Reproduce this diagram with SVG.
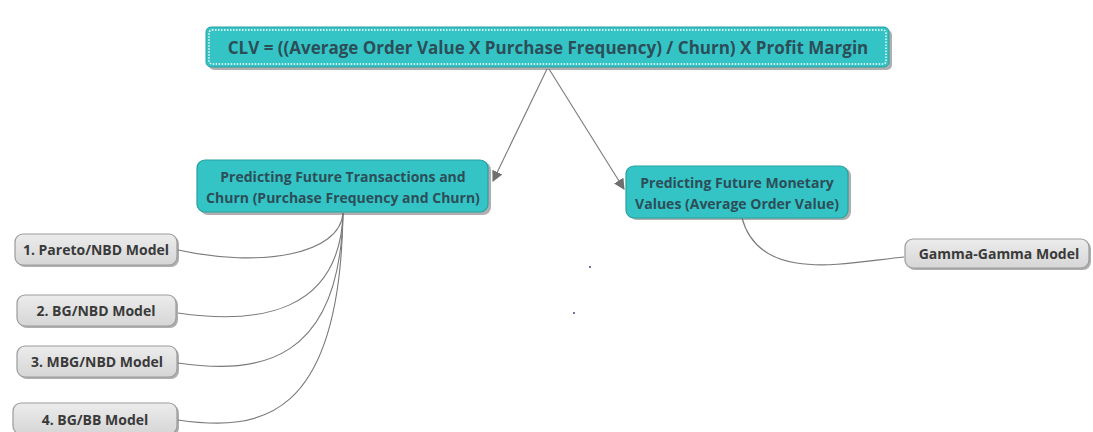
<svg xmlns="http://www.w3.org/2000/svg" width="1093" height="432" viewBox="0 0 1093 432">
  <defs>
    <style>
      .teal { fill: #35c4c6; stroke: #2a9fa1; stroke-width: 1.2; }
      .grey { fill: url(#greyFill); stroke: #9b9b9b; stroke-width: 1.2; }
      .shadow { fill: #6d6d6d; opacity: 0.55; }
      .t-main { font-family: "Open Sans", "Liberation Sans", sans-serif; font-weight: bold; font-size: 17px; fill: #2c4e58; text-anchor: middle; }
      .t-mid { font-family: "Open Sans", "Liberation Sans", sans-serif; font-weight: bold; font-size: 14px; fill: #2c4e58; text-anchor: middle; }
      .t-leaf { font-family: "Open Sans", "Liberation Sans", sans-serif; font-weight: bold; font-size: 14px; fill: #3a3a3a; text-anchor: middle; }
      .link { fill: none; stroke: #7a7a7a; stroke-width: 1.1; }
    </style>
    <linearGradient id="greyFill" x1="0" y1="0" x2="0" y2="1">
      <stop offset="0" stop-color="#ececec"/>
      <stop offset="1" stop-color="#d6d6d6"/>
    </linearGradient>
    <marker id="arrow" viewBox="0 0 10 10" refX="9" refY="5" markerWidth="11" markerHeight="11" markerUnits="userSpaceOnUse" orient="auto">
      <path d="M0,0 L10,5 L0,10 z" fill="#6f6f6f"/>
    </marker>
  </defs>

  <!-- connectors -->
  <g id="connectors">
    <line class="link" x1="547" y1="69" x2="493" y2="181" marker-end="url(#arrow)"/>
    <line class="link" x1="549" y1="69" x2="624" y2="189" marker-end="url(#arrow)"/>
    <path class="link" d="M343,213 C340,255 260,268 178,250"/>
    <path class="link" d="M343,213 C340,312 260,325 178,313"/>
    <path class="link" d="M343,213 C340,362 260,375 178,363"/>
    <path class="link" d="M343,213 C340,420 260,432 178,420"/>
    <path class="link" d="M742,218 C760,285 850,262 904,257"/>
  </g>

  <!-- root formula -->
  <g id="root">
    <rect class="shadow" x="209" y="30" width="683" height="40" rx="5"/>
    <rect x="206" y="27" width="683" height="40" rx="5" fill="#35c4c6" stroke="#2a9fa1" stroke-width="1"/>
    <rect x="209" y="30" width="677" height="34" rx="3" fill="none" stroke="#ffffff" stroke-width="1.4" stroke-dasharray="1.5 1.5"/>
    <text class="t-main" x="548" y="53.5">CLV = ((Average Order Value X Purchase Frequency) / Churn) X Profit Margin</text>
  </g>

  <g id="transactions">
    <rect class="shadow" x="200" y="162" width="291" height="53" rx="8"/>
    <rect class="teal" x="197" y="160" width="291" height="52" rx="8"/>
    <text class="t-mid" x="343" y="181.5">Predicting Future Transactions and</text>
    <text class="t-mid" x="343" y="202.5">Churn (Purchase Frequency and Churn)</text>
  </g>

  <g id="monetary">
    <rect class="shadow" x="629" y="168" width="222" height="52" rx="8"/>
    <rect class="teal" x="626" y="166" width="222" height="52" rx="8"/>
    <text class="t-mid" x="737" y="187.5">Predicting Future Monetary</text>
    <text class="t-mid" x="737" y="208.5">Values (Average Order Value)</text>
  </g>

  <g id="pareto">
    <rect class="shadow" x="17" y="236" width="162" height="31" rx="8"/>
    <rect class="grey" x="15" y="234" width="162" height="31" rx="8"/>
    <text class="t-leaf" x="96" y="255">1. Pareto/NBD Model</text>
  </g>

  <g id="bgnbd">
    <rect class="shadow" x="19" y="297" width="159" height="31" rx="8"/>
    <rect class="grey" x="17" y="295" width="159" height="31" rx="8"/>
    <text class="t-leaf" x="96" y="316">2. BG/NBD Model</text>
  </g>

  <g id="mbgnbd">
    <rect class="shadow" x="19" y="348" width="160" height="31" rx="8"/>
    <rect class="grey" x="17" y="346" width="160" height="31" rx="8"/>
    <text class="t-leaf" x="97" y="367">3. MBG/NBD Model</text>
  </g>

  <g id="bgbb">
    <rect class="shadow" x="15" y="405" width="164" height="31" rx="8"/>
    <rect class="grey" x="13" y="403" width="164" height="31" rx="8"/>
    <text class="t-leaf" x="95" y="424.5">4. BG/BB Model</text>
  </g>

  <g id="gamma">
    <rect class="shadow" x="907" y="241" width="184" height="29" rx="8"/>
    <rect class="grey" x="905" y="239" width="184" height="29" rx="8"/>
    <text class="t-leaf" x="999" y="259">Gamma-Gamma Model</text>
  </g>

  <!-- stray specks -->
  <circle cx="590" cy="267" r="1" fill="#3b4a8a"/>
  <circle cx="574" cy="313" r="1" fill="#3b4a8a"/>
</svg>
